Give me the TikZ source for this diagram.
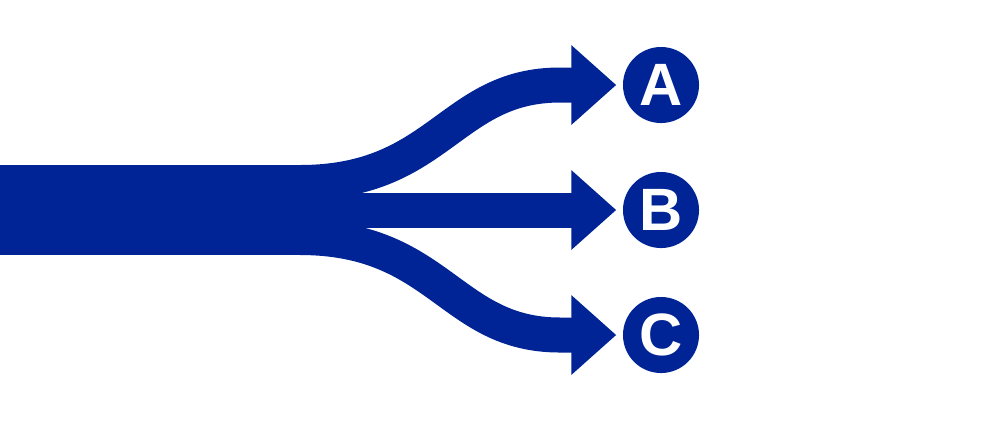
\documentclass[tikz,border=0pt]{standalone}
\usepackage{fontspec}
\setsansfont{Liberation Sans}
\usetikzlibrary{arrows.meta}
\definecolor{flowblue}{RGB}{0,36,150}
\tikzset{
  trunk/.style={fill=flowblue, inner sep=0pt, minimum width=3.4cm, minimum height=0.9cm},
  choice/.style={circle, fill=flowblue, text=white, inner sep=0pt, minimum size=0.76cm, font=\sffamily\bfseries\fontsize{17}{17}\selectfont},
  branch/.style={draw=flowblue, line width=0.35cm, -{Triangle[length=0.45cm, width=0.77cm]}, shorten >=0.06cm}
}
\begin{document}
\begin{tikzpicture}[x=0.01cm,y=-0.01cm]
  \useasboundingbox (0,0) rectangle (1000,420);

  \node[trunk] (stem) at (170,210) {};
  \node[choice] (A) at (661,85) {A};
  \node[choice] (B) at (661,210) {B};
  \node[choice] (C) at (661,335) {C};

  \coordinate (upper) at (300,182.5);
  \coordinate (split) at (300,210);
  \coordinate (lower) at (300,237.5);

  \draw[branch] (upper) .. controls (440,182.5) and (450,85) .. (560,85) -- (A.west);
  \draw[branch] (split) -- (B.west);
  \draw[branch] (lower) .. controls (440,237.5) and (450,335) .. (560,335) -- (C.west);
\end{tikzpicture}
\end{document}
